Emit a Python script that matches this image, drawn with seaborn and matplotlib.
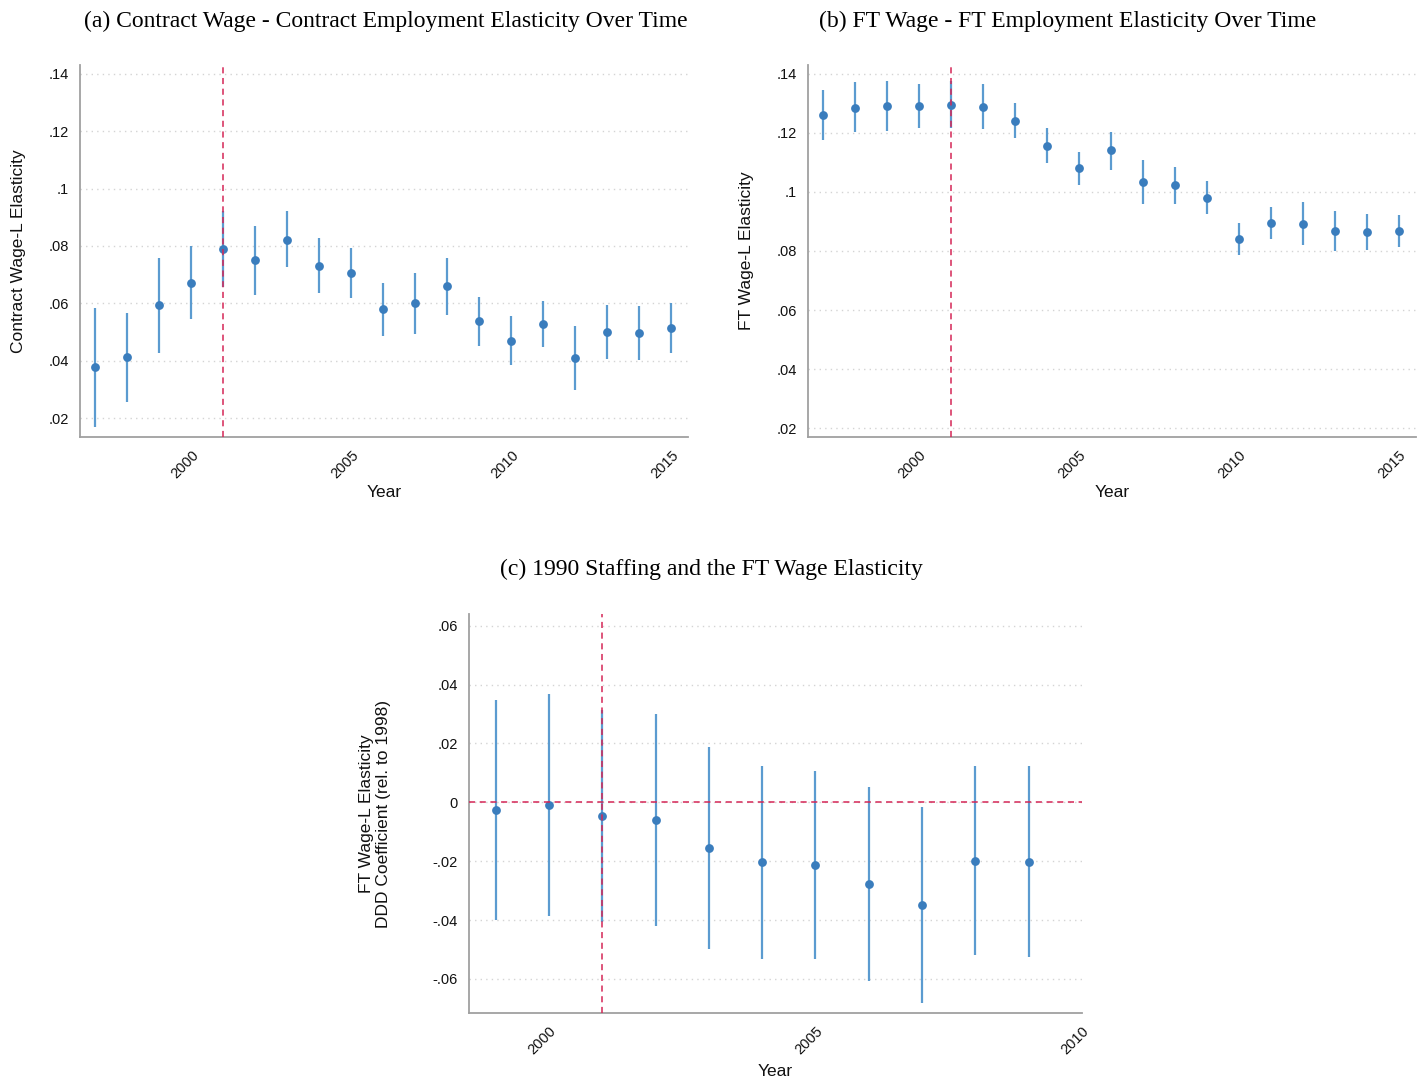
import matplotlib
matplotlib.use("Agg")
import matplotlib.pyplot as plt
import matplotlib.ticker as mticker
import numpy as np
import pandas as pd
import seaborn as sns

# ---------------- data ----------------
years_ab = list(range(1997, 2016))

contract_est = [0.0377, 0.0412, 0.0593, 0.0672, 0.0788, 0.0750, 0.0822, 0.0730, 0.0707, 0.0579,
                0.0600, 0.0659, 0.0537, 0.0470, 0.0529, 0.0409, 0.0500, 0.0497, 0.0513]
contract_hi = [0.0583, 0.0565, 0.0759, 0.0799, 0.0923, 0.0871, 0.0921, 0.0827, 0.0794, 0.0672,
               0.0707, 0.0758, 0.0623, 0.0556, 0.0609, 0.0521, 0.0593, 0.0592, 0.0601]
contract_lo = [0.0170, 0.0257, 0.0427, 0.0545, 0.0657, 0.0629, 0.0726, 0.0635, 0.0620, 0.0487,
               0.0492, 0.0559, 0.0452, 0.0384, 0.0447, 0.0297, 0.0406, 0.0402, 0.0426]

ft_est = [0.1261, 0.1286, 0.1291, 0.1290, 0.1296, 0.1289, 0.1242, 0.1156, 0.1080, 0.1141,
          0.1034, 0.1022, 0.0981, 0.0841, 0.0895, 0.0893, 0.0867, 0.0864, 0.0869]
ft_hi = [0.1347, 0.1371, 0.1377, 0.1364, 0.1375, 0.1364, 0.1301, 0.1215, 0.1137, 0.1204,
         0.1108, 0.1085, 0.1037, 0.0896, 0.0948, 0.0967, 0.0934, 0.0924, 0.0922]
ft_lo = [0.1175, 0.1202, 0.1206, 0.1218, 0.1218, 0.1212, 0.1184, 0.1097, 0.1025, 0.1076,
         0.0960, 0.0960, 0.0926, 0.0787, 0.0840, 0.0820, 0.0801, 0.0805, 0.0814]

years_c = list(range(1999, 2010))
ddd_est = [-0.0025, -0.0009, -0.0045, -0.0061, -0.0156, -0.0203, -0.0213, -0.0279, -0.0349, -0.0198, -0.0202]
ddd_hi = [0.0348, 0.0368, 0.0315, 0.0300, 0.0187, 0.0125, 0.0106, 0.0051, -0.0015, 0.0122, 0.0122]
ddd_lo = [-0.0399, -0.0387, -0.0408, -0.0422, -0.0499, -0.0531, -0.0532, -0.0608, -0.0683, -0.0519, -0.0524]

titles = ["(a) Contract Wage - Contract Employment Elasticity Over Time",
          "(b) FT Wage - FT Employment Elasticity Over Time",
          "(c) 1990 Staffing and the FT Wage Elasticity"]
ylabels = ["Contract Wage-L Elasticity", "FT Wage-L Elasticity",
           "FT Wage-L Elasticity\nDDD Coefficient (rel. to 1998)"]
xlabel = "Year"
yticks_ab = [0.02, 0.04, 0.06, 0.08, 0.10, 0.12, 0.14]
yticks_c = [-0.06, -0.04, -0.02, 0.0, 0.02, 0.04, 0.06]
xticks_ab = [2000, 2005, 2010, 2015]
xticks_c = [2000, 2005, 2010]
event_year = 2001

# ---------------- style ----------------
sns.set_theme(style="white")
plt.rcParams["font.family"] = ["Liberation Sans", "DejaVu Sans"]

PT_COLOR = "#3a7dbd"
CI_COLOR = "#5b9bd0"
RED = "#d42656"
SPINE = "#a0a0a0"


def stata_fmt(v, pos=None):
    if abs(v) < 1e-12:
        return "0"
    s = f"{v:.2f}".rstrip("0").rstrip(".")
    s = s.replace("0.", ".")
    return s


fig = plt.figure(figsize=(14.24, 10.83), dpi=100)
W, H = 1424, 1083


def make_ax(l, t, r, b):
    return fig.add_axes([l / W, 1 - b / H, (r - l) / W, (b - t) / H])


ax_a = make_ax(80, 65, 688, 437)
ax_b = make_ax(808, 65, 1416, 437)
ax_c = make_ax(469, 614, 1082, 1013)

specs = [
    (ax_a, years_ab, contract_est, contract_lo, contract_hi, (1996.52, 2015.53), (0.0134, 0.1431),
     yticks_ab, xticks_ab, ylabels[0], -0.089),
    (ax_b, years_ab, ft_est, ft_lo, ft_hi, (1996.53, 2015.53), (0.0170, 0.1430),
     yticks_ab, xticks_ab, ylabels[1], -0.089),
    (ax_c, years_c, ddd_est, ddd_lo, ddd_hi, (1998.5, 2010.0), (-0.0716, 0.0640),
     yticks_c, xticks_c, ylabels[2], -0.127),
]

for ax, yrs, est, lo, hi, xlim, ylim, yt, xt, ylab, ylx in specs:
    df = pd.DataFrame({"year": yrs, "est": est, "lo": lo, "hi": hi})
    ax.set_xlim(*xlim)
    ax.set_ylim(*ylim)
    for y in yt:
        ax.axhline(y, color="#d4d4d4", lw=1.0, ls=(0, (1, 3)), zorder=0)
    ax.vlines(df["year"], df["lo"], df["hi"], color=CI_COLOR, lw=1.6, zorder=2)
    sns.scatterplot(data=df, x="year", y="est", ax=ax, color=PT_COLOR, s=40,
                    edgecolor=PT_COLOR, linewidth=0, zorder=3, legend=False)
    ax.axvline(event_year, color=RED, lw=1.1, ls=(0, (4, 3)), zorder=4)
    if ax is ax_c:
        ax.axhline(0, color=RED, lw=1.1, ls=(0, (4, 3)), zorder=4)

    ax.set_yticks(yt)
    ax.yaxis.set_major_formatter(mticker.FuncFormatter(stata_fmt))
    ax.set_xticks(xt)
    ax.set_xticklabels([str(v) for v in xt], rotation=45, ha="right", rotation_mode="anchor")
    ax.tick_params(axis="both", which="major", length=5, width=1, color=SPINE,
                   labelsize=10.5, labelcolor="#111111", direction="out", pad=3)
    ax.tick_params(axis="x", pad=3)
    for s in ["top", "right"]:
        ax.spines[s].set_visible(False)
    for s in ["left", "bottom"]:
        ax.spines[s].set_color(SPINE)
        ax.spines[s].set_linewidth(1.3)
    ax.set_xlabel(xlabel, fontsize=12.5, color="#111111")
    ax.set_ylabel(ylab, fontsize=12.5, color="#111111", linespacing=1.2)
    ax.xaxis.set_label_coords(0.5, -0.128)
    ax.yaxis.set_label_coords(ylx, 0.5)
    ax.grid(False)

serif = ["Liberation Serif", "DejaVu Serif"]
fig.text(386 / W, 1 - 21 / H, titles[0], ha="center", va="center", fontsize=17, family=serif, color="black")
fig.text(1068 / W, 1 - 21 / H, titles[1], ha="center", va="center", fontsize=17, family=serif, color="black")
fig.text(711 / W, 1 - 569 / H, titles[2], ha="center", va="center", fontsize=17, family=serif, color="black")

fig.savefig("out.png", dpi=100, facecolor="white")
